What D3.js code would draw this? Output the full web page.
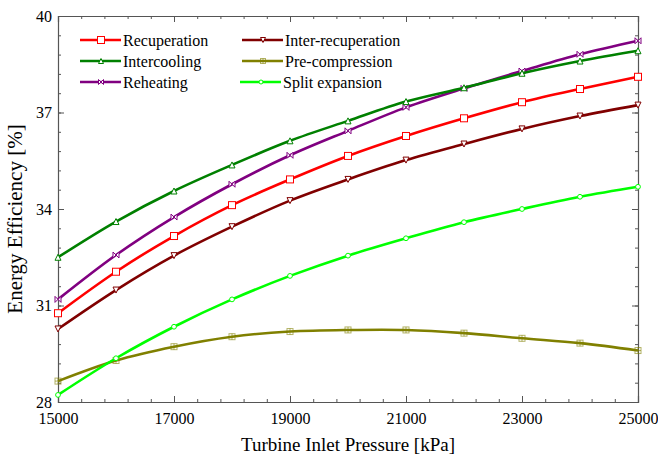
<!DOCTYPE html>
<html lang="en">
<head>
    <meta charset="utf-8">
    <script src="https://unpkg.com/d3@7/dist/d3.min.js"></script>
    <style>
        body { margin: 0; background: #fff; }
        svg text { font-family: "Liberation Serif", "Times New Roman", serif; fill: #000; }
        .frame path.domain, .frame line { stroke: #555; }
    </style>
</head>
<body>
    <div id="chart"></div>
    <script>
        // turbine inlet pressure [kPa]
        const pressure = [15000, 16000, 17000, 18000, 19000, 20000, 21000, 22000, 23000, 24000, 25000];

        // energy efficiency [%]
        const recuperation = [30.76, 32.05, 33.16, 34.12, 34.92, 35.65, 36.27, 36.82, 37.32, 37.73, 38.11];
        const interRecuperation = [30.27, 31.48, 32.55, 33.45, 34.26, 34.92, 35.52, 36.02, 36.49, 36.89, 37.23];
        const intercooling = [32.50, 33.61, 34.56, 35.37, 36.12, 36.74, 37.34, 37.77, 38.22, 38.60, 38.92];
        const preCompression = [28.65, 29.29, 29.72, 30.03, 30.19, 30.24, 30.24, 30.14, 29.98, 29.83, 29.60];
        const reheating = [31.19, 32.57, 33.75, 34.77, 35.67, 36.43, 37.16, 37.75, 38.29, 38.81, 39.23];
        const splitExpansion = [28.22, 29.36, 30.34, 31.19, 31.92, 32.55, 33.09, 33.59, 34.00, 34.38, 34.69];

        const xTicks = [15000, 17000, 19000, 21000, 23000, 25000];
        const yTicks = [28, 31, 34, 37, 40];

        const series = [
            { name: "Recuperation", values: recuperation, color: "#ff0000", marker: "square", col: 0, row: 0 },
            { name: "Inter-recuperation", values: interRecuperation, color: "#800000", marker: "triDown", col: 1, row: 0 },
            { name: "Intercooling", values: intercooling, color: "#008000", marker: "triUp", col: 0, row: 1 },
            { name: "Pre-compression", values: preCompression, color: "#808000", marker: "squareCross", col: 1, row: 1 },
            { name: "Reheating", values: reheating, color: "#800080", marker: "bowtie", col: 0, row: 2 },
            { name: "Split expansion", values: splitExpansion, color: "#00ff00", marker: "circle", col: 1, row: 2 }
        ];
        // draw order so the top curves sit above the others
        const drawOrder = [3, 5, 1, 0, 4, 2];

        const W = 658, H = 458;
        const margin = { top: 16, right: 20, bottom: 56, left: 58 };
        const iw = W - margin.left - margin.right;
        const ih = H - margin.top - margin.bottom;

        const x = d3.scaleLinear().domain([15000, 25000]).range([0, iw]);
        const y = d3.scaleLinear().domain([28, 40]).range([ih, 0]);

        const svg = d3.select("#chart").append("svg")
            .attr("width", W).attr("height", H);
        const g = svg.append("g").attr("transform", `translate(${margin.left},${margin.top})`);

        const xMinor = d3.range(15000, 25001, 400);
        const yMinor = d3.range(28, 40.001, 0.6).map(v => +v.toFixed(1));

        // minor ticks (all four sides, pointing inward)
        const minor = g.append("g").attr("class", "frame");
        minor.append("g").attr("transform", `translate(0,${ih})`)
            .call(d3.axisBottom(x).tickValues(xMinor).tickSize(-3).tickFormat(""));
        minor.append("g")
            .call(d3.axisTop(x).tickValues(xMinor).tickSize(-3).tickFormat(""));
        minor.append("g")
            .call(d3.axisLeft(y).tickValues(yMinor).tickSize(-3).tickFormat(""));
        minor.append("g").attr("transform", `translate(${iw},0)`)
            .call(d3.axisRight(y).tickValues(yMinor).tickSize(-3).tickFormat(""));

        // major ticks
        const major = g.append("g").attr("class", "frame");
        major.append("g").attr("transform", `translate(0,${ih})`)
            .call(d3.axisBottom(x).tickValues(xTicks).tickSize(-6).tickPadding(11).tickFormat(d3.format("d")))
            .selectAll("text").style("font-size", "16px");
        major.append("g")
            .call(d3.axisTop(x).tickValues(xTicks).tickSize(-6).tickFormat(""));
        major.append("g")
            .call(d3.axisLeft(y).tickValues(yTicks).tickSize(-6).tickPadding(6))
            .selectAll("text").style("font-size", "16px");
        major.append("g").attr("transform", `translate(${iw},0)`)
            .call(d3.axisRight(y).tickValues(yTicks).tickSize(-6).tickFormat(""));
        major.selectAll("path.domain").attr("stroke-width", 1.2);

        // axis titles
        svg.append("text")
            .attr("x", margin.left + iw / 2).attr("y", 451)
            .attr("text-anchor", "middle").style("font-size", "19px")
            .text("Turbine Inlet Pressure [kPa]");
        svg.append("text")
            .attr("transform", `translate(22,219) rotate(-90)`)
            .attr("text-anchor", "middle").style("font-size", "21px")
            .text("Energy Efficiency [%]");

        function drawMarker(sel, type, color, s) {
            const h = s / 2;
            if (type === "square") {
                sel.append("rect").attr("x", -h).attr("y", -h).attr("width", s).attr("height", s)
                    .attr("fill", "#fff").attr("stroke", color).attr("stroke-width", 1);
            } else if (type === "squareCross") {
                sel.append("rect").attr("x", -h).attr("y", -h).attr("width", s).attr("height", s)
                    .attr("fill", "none").attr("stroke", color).attr("stroke-width", 1).attr("opacity", 0.6);
                sel.append("path").attr("d", `M${-h},0H${h}M0,${-h}V${h}`)
                    .attr("stroke", color).attr("stroke-width", 1).attr("opacity", 0.6);
            } else if (type === "triUp") {
                sel.append("path").attr("d", `M0,${-h}L${h},${h}L${-h},${h}Z`)
                    .attr("fill", "#fff").attr("stroke", color).attr("stroke-width", 1);
            } else if (type === "triDown") {
                sel.append("path").attr("d", `M0,${h}L${h},${-h}L${-h},${-h}Z`)
                    .attr("fill", "#fff").attr("stroke", color).attr("stroke-width", 1);
            } else if (type === "bowtie") {
                sel.append("path").attr("d", `M${-h},${-h}L${h},${h}L${h},${-h}L${-h},${h}Z`)
                    .attr("fill", "#fff").attr("stroke", color).attr("stroke-width", 1);
            } else if (type === "circle") {
                sel.append("circle").attr("r", h * 0.8)
                    .attr("fill", "#fff").attr("stroke", color).attr("stroke-width", 1);
            }
        }

        const line = d3.line()
            .x(d => x(d[0]))
            .y(d => y(d[1]))
            .curve(d3.curveCatmullRom.alpha(0.5));

        const plot = g.append("g");
        drawOrder.forEach(i => {
            const s = series[i];
            const pts = pressure.map((p, k) => [p, s.values[k]]);
            plot.append("path").datum(pts)
                .attr("d", line)
                .attr("fill", "none")
                .attr("stroke", s.color)
                .attr("stroke-width", 2.6);
            plot.append("g").selectAll("g")
                .data(pts)
                .join("g")
                .attr("transform", d => `translate(${x(d[0])},${y(d[1])})`)
                .each(function () { drawMarker(d3.select(this), s.marker, s.color, s.marker === "square" ? 7 : 6); });
        });

        // legend
        const legend = svg.append("g");
        const colX = [80, 242];
        const rowY = [40, 61, 82];
        series.forEach(s => {
            const lx = colX[s.col] - (s.name === "Split expansion" ? 2 : 0);
            const ly = rowY[s.row];
            const item = legend.append("g").attr("transform", `translate(${lx},${ly})`);
            item.append("line").attr("x1", 0).attr("x2", 41).attr("y1", 0).attr("y2", 0)
                .attr("stroke", s.color).attr("stroke-width", 2.6);
            const m = item.append("g").attr("transform", "translate(21,0)");
            drawMarker(m, s.marker, s.color, s.marker === "square" ? 7 : 5);
            item.append("text").attr("x", 43).attr("y", 0).attr("dy", "0.35em")
                .style("font-size", "16px").text(s.name);
        });
    </script>
</body>
</html>
